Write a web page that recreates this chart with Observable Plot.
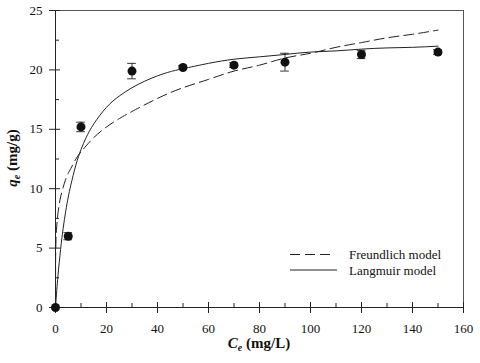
<!DOCTYPE html>
<html><head><meta charset="utf-8">
<script src="https://cdn.jsdelivr.net/npm/d3@7"></script>
<script src="https://cdn.jsdelivr.net/npm/@observablehq/plot@0.6"></script>
<style>body{margin:0;background:#fff} svg{display:block} svg text{font-family:'Liberation Serif','Times New Roman',serif !important;}</style>
</head><body><div id="chart"></div>
<script>
// Experimental data
const ce = [0, 5, 10, 30, 50, 70, 90, 120, 150];
const qe = [0, 6.0, 15.2, 19.9, 20.2, 20.4, 20.65, 21.3, 21.5];
const qeErr = [0, 0.3, 0.4, 0.65, 0.15, 0.2, 0.75, 0.35, 0.2];

// Model curves
const langC = [0, 0.5, 1, 2, 3, 4, 5, 6, 8, 10, 12, 15, 20, 25, 30, 35, 40, 45, 50, 60, 70, 80, 90, 100, 110, 120, 130, 140, 150];
const langQ = [0, 1.45, 2.75, 4.9, 6.65, 8.1, 9.3, 10.3, 12.0, 13.3, 14.3, 15.45, 16.85, 17.8, 18.5, 19.05, 19.5, 19.85, 20.1, 20.55, 20.9, 21.1, 21.3, 21.5, 21.6, 21.75, 21.85, 21.9, 22.0];
const freC = [0, 0.05, 0.1, 0.2, 0.4, 0.7, 1, 1.5, 2, 3, 4, 5, 6, 8, 10, 12, 15, 20, 25, 30, 40, 50, 60, 70, 80, 90, 100, 110, 120, 130, 140, 150];
const freQ = [0, 4.2, 4.9, 5.7, 6.6, 7.4, 8.0, 8.7, 9.3, 10.1, 10.8, 11.3, 11.7, 12.5, 13.1, 13.6, 14.3, 15.2, 15.9, 16.5, 17.6, 18.5, 19.2, 19.9, 20.4, 21.0, 21.4, 21.9, 22.3, 22.7, 23.0, 23.35];

// Ticks
const xMajor = [0, 20, 40, 60, 80, 100, 120, 140, 160];
const xMinor = [10, 30, 50, 70, 90, 110, 130, 150];
const yMajor = [0, 5, 10, 15, 20, 25];
const yMinor = [2.5, 7.5, 12.5, 17.5, 22.5];

// Legend entries
const legendLabels = ["Freundlich model", "Langmuir model"];

const pts = ce.map((c, i) => ({c, q: qe[i], e: qeErr[i]}));
const errPts = pts.filter(d => d.e > 0);
const lang = langC.map((c, i) => ({c, q: langQ[i]}));
const fre = freC.map((c, i) => ({c, q: freQ[i]}));

const ink = "#222";
const font = "'Liberation Serif', 'Times New Roman', serif";
const plot = Plot.plot({
  width: 480, height: 363,
  marginLeft: 55, marginRight: 17, marginTop: 10, marginBottom: 56,
  style: {fontFamily: font, fontSize: "13px", color: "#111", background: "#fff"},
  x: {domain: [0, 160]},
  y: {domain: [0, 25]},
  marks: [
    Plot.frame({stroke: "#555"}),
    Plot.axisX({ticks: xMajor, tickSize: 11, dy: -5, tickPadding: 10, tickFormat: d => String(d), stroke: ink, label: null}),
    Plot.axisX({ticks: xMinor, tickSize: 4, dy: -4, tickFormat: () => "", stroke: ink, label: null}),
    Plot.axisY({ticks: yMajor, tickSize: 11, dx: 5, tickPadding: 7, tickFormat: d => String(d), stroke: ink, label: null}),
    Plot.axisY({ticks: yMinor, tickSize: 4, dx: 4, tickFormat: () => "", stroke: ink, label: null}),
    Plot.ruleX([0], {stroke: ink}),
    Plot.ruleY([0], {stroke: ink}),
    Plot.line(fre, {x: "c", y: "q", stroke: ink, strokeWidth: 1, strokeDasharray: "10,5", curve: "natural"}),
    Plot.line(lang, {x: "c", y: "q", stroke: ink, strokeWidth: 1, curve: "natural"}),
    Plot.ruleX(errPts, {x: "c", y1: d => d.q - d.e, y2: d => d.q + d.e, stroke: "#333", strokeWidth: 1}),
    Plot.ruleY(errPts, {y: d => d.q - d.e, x1: d => d.c - 1.7, x2: d => d.c + 1.7, stroke: "#333", strokeWidth: 1}),
    Plot.ruleY(errPts, {y: d => d.q + d.e, x1: d => d.c - 1.7, x2: d => d.c + 1.7, stroke: "#333", strokeWidth: 1}),
    Plot.dot(pts, {x: "c", y: "q", r: 4.5, fill: "#111", stroke: "none"})
  ]
});
document.getElementById("chart").appendChild(plot);

const svg = d3.select(plot);
// Axis titles
const xl = svg.append("text").attr("x", 259).attr("y", 348).attr("text-anchor", "middle")
  .attr("font-size", 15).attr("font-weight", "bold").attr("fill", "#111");
xl.append("tspan").attr("font-style", "italic").text("C");
xl.append("tspan").attr("font-style", "italic").attr("font-size", 10).attr("dy", 3).text("e");
xl.append("tspan").attr("dy", -3).text(" (mg/L)");

const yl = svg.append("text").attr("transform", "translate(17,158) rotate(-90)").attr("text-anchor", "middle")
  .attr("font-size", 15).attr("font-weight", "bold").attr("fill", "#111");
yl.append("tspan").attr("font-style", "italic").text("q");
yl.append("tspan").attr("font-style", "italic").attr("font-size", 10).attr("dy", 3).text("e");
yl.append("tspan").attr("dy", -3).text(" (mg/g)");

// Legend
const lg = svg.append("g").attr("font-size", 13).attr("fill", "#111").attr("text-anchor", "start");
lg.append("line").attr("x1", 290).attr("x2", 332).attr("y1", 254.5).attr("y2", 254.5)
  .attr("stroke", ink).attr("stroke-dasharray", "10,5");
lg.append("text").attr("x", 349).attr("y", 259).attr("text-anchor", "start").text(legendLabels[0]);
lg.append("line").attr("x1", 290).attr("x2", 337).attr("y1", 270).attr("y2", 270).attr("stroke", ink);
lg.append("text").attr("x", 349).attr("y", 274.5).attr("text-anchor", "start").text(legendLabels[1]);
</script>
</body></html>
